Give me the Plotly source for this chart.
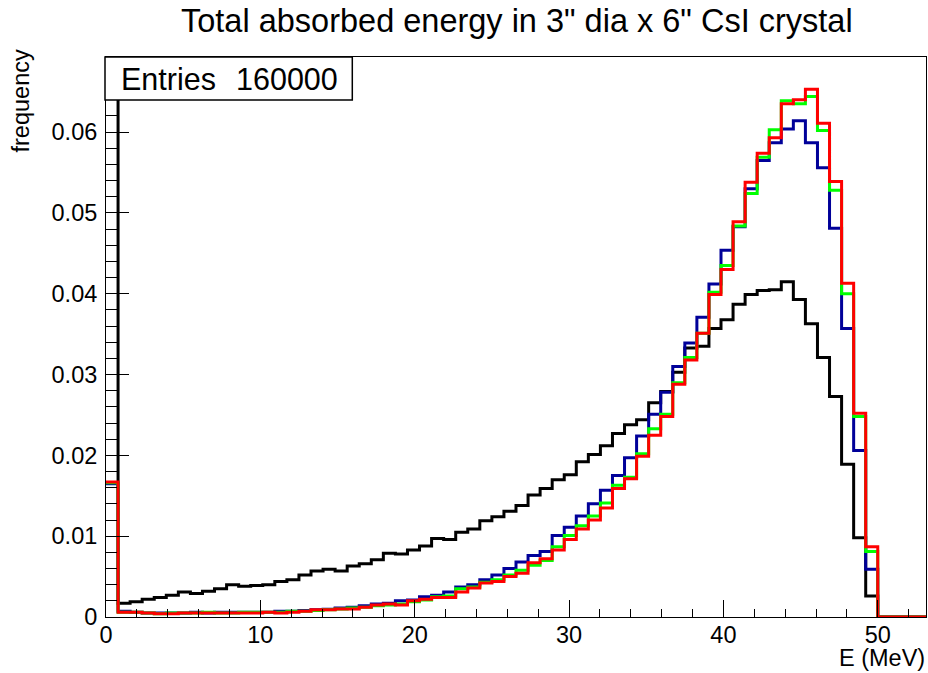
import numpy as np
import plotly.graph_objects as go

# ---- data: histogram bin contents (frequency), 68 bins of width 0.78125 MeV, 0 .. 53.125 MeV
bin_width = 0.78125
n_bins = 68

black = [0.085, 0.0017, 0.0019, 0.0022, 0.0024, 0.0027, 0.0031, 0.0029, 0.0032, 0.0035,
         0.0040, 0.0038, 0.0039, 0.0040, 0.0044, 0.0046, 0.0052, 0.0057, 0.0059, 0.0057,
         0.0063, 0.0066, 0.0071, 0.0079, 0.0078, 0.0083, 0.0088, 0.0097, 0.0096, 0.0105,
         0.0109, 0.0119, 0.0124, 0.0131, 0.0138, 0.0151, 0.0159, 0.0170, 0.0176, 0.0192,
         0.0201, 0.0212, 0.0227, 0.0238, 0.0244, 0.0265, 0.0279, 0.0303, 0.0333, 0.0335,
         0.0357, 0.0368, 0.0387, 0.0399, 0.0404, 0.0405, 0.0415, 0.0393, 0.0363, 0.0321,
         0.0273, 0.0189, 0.0098, 0.0026, 0, 0, 0, 0]

blue = [0.0165, 0.0007, 0.0006, 0.0005, 0.0005, 0.0005, 0.0005, 0.0006, 0.0005, 0.0006,
        0.0006, 0.0006, 0.0006, 0.0006, 0.0007, 0.0007, 0.0008, 0.0009, 0.00095, 0.0011,
        0.0012, 0.0014, 0.0016, 0.0017, 0.0020, 0.0021, 0.0025, 0.0027, 0.0031, 0.0037,
        0.0040, 0.0046, 0.0052, 0.0060, 0.0068, 0.0076, 0.0081, 0.0101, 0.0111, 0.0125,
        0.0140, 0.0157, 0.0175, 0.0197, 0.0224, 0.0251, 0.0278, 0.0310, 0.0339, 0.0371,
        0.0412, 0.0454, 0.0483, 0.0530, 0.0565, 0.0587, 0.0604, 0.0614, 0.0587, 0.0556,
        0.0481, 0.0357, 0.0206, 0.0059, 0, 0, 0, 0]

green = [0.0166, 0.0006, 0.0006, 0.0005, 0.0004, 0.0005, 0.0005, 0.0005, 0.0006, 0.0005,
         0.0005, 0.0006, 0.0006, 0.0006, 0.0006, 0.0007, 0.0007, 0.0008, 0.0009, 0.0010,
         0.0011, 0.0012, 0.0014, 0.0015, 0.0016, 0.0019, 0.0021, 0.0025, 0.0026, 0.0035,
         0.0037, 0.0043, 0.0046, 0.0052, 0.0058, 0.0064, 0.0070, 0.0087, 0.0101, 0.0113,
         0.0125, 0.0141, 0.0163, 0.0173, 0.0202, 0.0233, 0.0251, 0.0290, 0.0321, 0.0351,
         0.0402, 0.0435, 0.0484, 0.0524, 0.0569, 0.0603, 0.0639, 0.0635, 0.0644, 0.0602,
         0.0528, 0.0400, 0.0248, 0.0081, 0, 0, 0, 0]

red = [0.0167, 0.0006, 0.0006, 0.0005, 0.0004, 0.0004, 0.0005, 0.0005, 0.0005, 0.0005,
       0.0005, 0.0005, 0.0005, 0.0006, 0.0005, 0.0006, 0.0007, 0.0009, 0.0009, 0.0010,
       0.0010, 0.0012, 0.0015, 0.0016, 0.0015, 0.0020, 0.0022, 0.0024, 0.0024, 0.0031,
       0.0036, 0.0042, 0.0044, 0.0050, 0.0054, 0.0067, 0.0072, 0.0083, 0.0096, 0.0109,
       0.0120, 0.0135, 0.0159, 0.0171, 0.0199, 0.0225, 0.0248, 0.0288, 0.0318, 0.0351,
       0.0399, 0.0430, 0.0489, 0.0538, 0.0574, 0.0593, 0.0635, 0.0640, 0.0653, 0.0611,
       0.0539, 0.0413, 0.0252, 0.0087, 0, 0, 0, 0]

title_text = 'Total absorbed energy in 3" dia x 6" CsI crystal'
x_title = "E (MeV)"
y_title = "frequency"
entries_label = "Entries"
entries_value = "160000"

# ---- layout geometry (pixels)
W, H = 928, 673
ML, MR, MT, MB = 106, 2, 57, 56
PW, PH = W - ML - MR, H - MT - MB

def px_x(px):
    return (px - ML) / PW

def px_y(py):
    return (H - MB - py) / PH

FONT = "Liberation Sans, Arial, Helvetica, sans-serif"
edges = np.arange(n_bins + 1) * bin_width

fig = go.Figure()
series = [(black, "#000000"), (blue, "#000099"), (green, "#00ff00"), (red, "#ff0000")]
for vals, col in series:
    fig.add_trace(go.Scatter(
        x=edges, y=list(vals) + [vals[-1]], mode="lines",
        line=dict(color=col, width=3, shape="hv"),
        showlegend=False, hoverinfo="skip"))

fig.update_layout(
    width=W, height=H,
    margin=dict(l=ML, r=MR, t=MT, b=MB, pad=0),
    paper_bgcolor="white", plot_bgcolor="white",
    font=dict(family=FONT, color="black", size=23.5),
    showlegend=False,
)
fig.update_xaxes(
    range=[0, n_bins * bin_width], showgrid=False, zeroline=False,
    showline=True, linecolor="black", linewidth=1, mirror=True,
    ticks="inside", ticklen=17, tickwidth=1, tickcolor="black",
    tick0=0, dtick=10, ticklabelstandoff=-3,
    tickfont=dict(size=23.5, family=FONT),
    minor=dict(ticks="inside", ticklen=8, dtick=2, tickwidth=1, tickcolor="black", showgrid=False),
)
fig.update_yaxes(
    range=[0, 0.0693], showgrid=False, zeroline=False,
    showline=True, linecolor="black", linewidth=1, mirror=True,
    ticks="inside", ticklen=23, tickwidth=1, tickcolor="black",
    tick0=0, dtick=0.01, ticklabelstandoff=3,
    tickfont=dict(size=23.5, family=FONT),
    minor=dict(ticks="inside", ticklen=11, dtick=0.002, tickwidth=1, tickcolor="black", showgrid=False),
)

# stats box
fig.add_shape(type="rect", xref="paper", yref="paper",
              x0=px_x(105), x1=px_x(352.3), y0=px_y(100), y1=px_y(57),
              line=dict(color="black", width=1.5), fillcolor="white", layer="above")

ann = [
    dict(text=title_text, x=px_x(517), y=px_y(21), xanchor="center", yanchor="middle",
         font=dict(size=32.5, family=FONT)),
    dict(text=entries_label, x=px_x(118.5), y=px_y(79.5), xanchor="left", yanchor="middle",
         font=dict(size=30.5, family=FONT)),
    dict(text=entries_value, x=px_x(339.5), y=px_y(79.5), xanchor="right", yanchor="middle",
         font=dict(size=30.5, family=FONT)),
    dict(text=x_title, x=px_x(927), y=px_y(657.5), xanchor="right", yanchor="middle",
         font=dict(size=23.5, family=FONT)),
    dict(text=y_title, x=px_x(20), y=px_y(48), xanchor="center", yanchor="top",
         textangle=-90, font=dict(size=23.5, family=FONT)),
]
for a in ann:
    fig.add_annotation(xref="paper", yref="paper", showarrow=False, **a)

fig.write_html("out.html", config={"displayModeBar": False, "staticPlot": True},
               post_script="document.body.style.margin='0';document.body.style.overflow='hidden';")
